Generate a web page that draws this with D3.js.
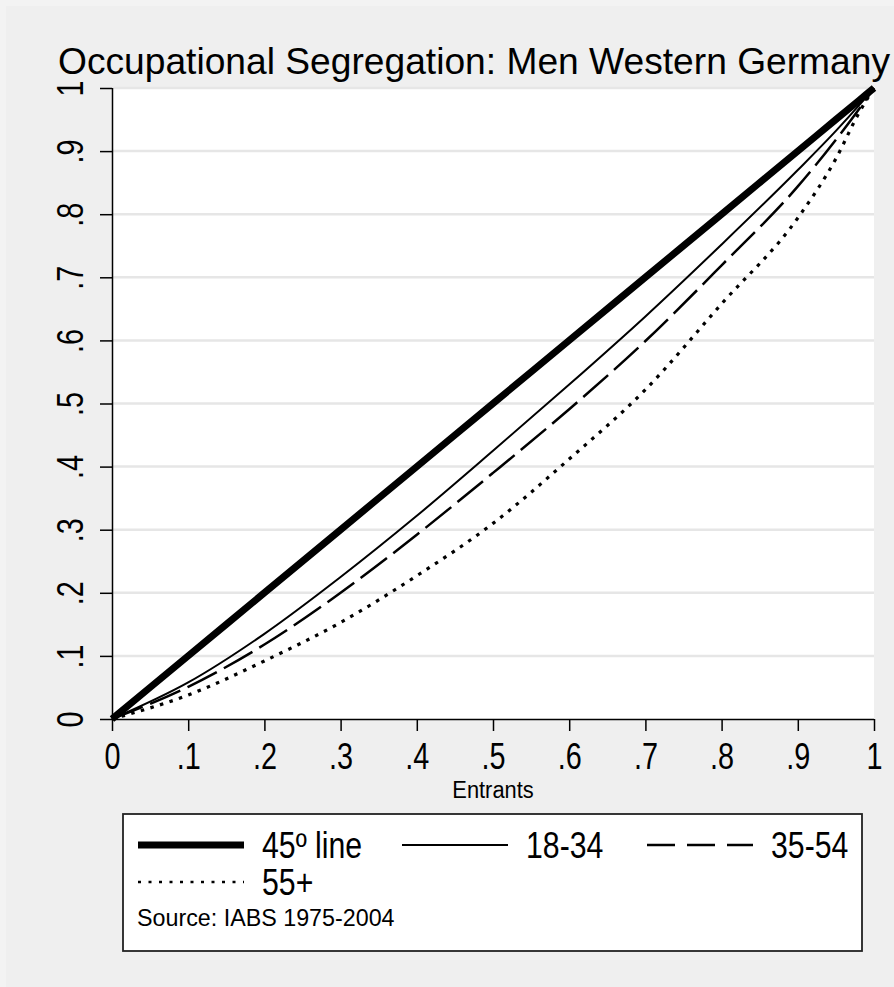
<!DOCTYPE html>
<html>
<head>
<meta charset="utf-8">
<script src="https://cdn.jsdelivr.net/npm/d3@7"></script>
<style>
  body { margin: 0; background: #efefef; }
  text { font-family: Arial, "Liberation Sans", sans-serif; fill: #000; }
</style>
</head>
<body>
<div id="chart"></div>
<script>
// chart data (share of entrants vs share of employment)
var xShares = [0, 0.1, 0.2, 0.3, 0.4, 0.5, 0.6, 0.7, 0.8, 0.9, 0.95, 0.98, 1];
var line45 = [0, 0.1, 0.2, 0.3, 0.4, 0.5, 0.6, 0.7, 0.8, 0.9, 0.95, 0.98, 1];
var age18to34 = [0, 0.058, 0.135, 0.225, 0.322, 0.425, 0.53, 0.638, 0.752, 0.87, 0.932, 0.972, 1];
var age35to54 = [0, 0.051, 0.118, 0.2, 0.292, 0.39, 0.491, 0.599, 0.719, 0.844, 0.918, 0.966, 1];
var age55plus = [0, 0.038, 0.092, 0.153, 0.227, 0.31, 0.412, 0.522, 0.658, 0.794, 0.888, 0.96, 1];
var yTicks = [0, 0.1, 0.2, 0.3, 0.4, 0.5, 0.6, 0.7, 0.8, 0.9, 1];
var xTicks = [0, 0.1, 0.2, 0.3, 0.4, 0.5, 0.6, 0.7, 0.8, 0.9, 1];

var svgWidth = 894;
var svgHeight = 987;

var margin = { top: 88, right: 20, bottom: 268, left: 112 };
var width = 874 - margin.left;
var height = 719 - margin.top;

var svg = d3.select("#chart").append("svg")
  .attr("width", svgWidth)
  .attr("height", svgHeight);

svg.append("rect").attr("width", svgWidth).attr("height", svgHeight).attr("fill", "#f3f3f3");
svg.append("rect").attr("x", 6).attr("y", 6).attr("width", svgWidth - 6).attr("height", svgHeight - 6)
  .attr("fill", "#efefef");

// squeeze text horizontally (the original uses a narrow looking font)
function condense(sel, k) {
  sel.each(function () {
    var len = this.getComputedTextLength();
    d3.select(this).attr("textLength", len * k).attr("lengthAdjust", "spacingAndGlyphs");
  });
}

// title
svg.append("text")
  .attr("x", 58)
  .attr("y", 74)
  .attr("textLength", 832)
  .attr("lengthAdjust", "spacingAndGlyphs")
  .style("font-size", "36px")
  .text("Occupational Segregation: Men Western Germany");

var chartGroup = svg.append("g").attr("transform", `translate(${margin.left}, ${margin.top})`);

chartGroup.append("rect").attr("width", width).attr("height", height).attr("fill", "#fff");

var xScale = d3.scaleLinear().domain([0, 1]).range([0, width]);
var yScale = d3.scaleLinear().domain([0, 1]).range([height, 0]);

var fmt = function (d) { return d === 0 || d === 1 ? String(d) : d3.format(".1f")(d).replace(/^0/, ""); };

// gridlines
chartGroup.selectAll(".grid").data(yTicks.filter(d => d > 0)).enter().append("line")
  .attr("x1", 0).attr("x2", width)
  .attr("y1", d => yScale(d)).attr("y2", d => yScale(d))
  .attr("stroke", "#e6e6e6").attr("stroke-width", 2.5);

// axes
var bottomAxis = d3.axisBottom(xScale).tickValues(xTicks).tickFormat(fmt).tickSize(12);
var leftAxis = d3.axisLeft(yScale).tickValues(yTicks).tickFormat(fmt).tickSize(12);

var xAxisG = chartGroup.append("g").attr("transform", `translate(0, ${height})`).call(bottomAxis);
var yAxisG = chartGroup.append("g").call(leftAxis);

[xAxisG, yAxisG].forEach(function (g) {
  g.select(".domain").attr("stroke", "#000").attr("stroke-width", 1.5);
  g.selectAll(".tick line").attr("stroke", "#000").attr("stroke-width", 1.5);
  g.selectAll(".tick text").style("font-size", "36px").attr("fill", "#000")
    .style("font-family", "Arial, 'Liberation Sans', sans-serif");
});
xAxisG.select(".domain").attr("d", `M0,0.5H${width}`);
yAxisG.select(".domain").attr("d", `M0.5,${height}V0`);

xAxisG.selectAll(".tick text").attr("dy", null).attr("y", 50);
yAxisG.selectAll(".tick text")
  .attr("x", null).attr("dy", null)
  .attr("text-anchor", "middle")
  .attr("transform", "translate(-29,0) rotate(-90)");
condense(xAxisG.selectAll(".tick text"), 0.8);
condense(yAxisG.selectAll(".tick text"), 0.8);

var xTitle = chartGroup.append("text")
  .attr("x", width / 2)
  .attr("y", height + 79)
  .attr("text-anchor", "middle")
  .style("font-size", "23px")
  .text("Entrants");
condense(xTitle, 0.95);

// lines
var series = [
  { name: "45º line", values: line45, width: 7, dash: null },
  { name: "18-34", values: age18to34, width: 2, dash: null },
  { name: "35-54", values: age35to54, width: 2.5, dash: "33,8" },
  { name: "55+", values: age55plus, width: 3.2, dash: "3.5,6.5" }
];

var line = d3.line()
  .x((d, i) => xScale(xShares[i]))
  .y(d => yScale(d))
  .curve(d3.curveMonotoneX);

series.slice().reverse().forEach(function (s) {
  chartGroup.append("path")
    .attr("d", line(s.values))
    .attr("fill", "none")
    .attr("stroke", "#000")
    .attr("stroke-width", s.width)
    .attr("stroke-dasharray", s.dash);
});

// legend
var legend = svg.append("g");
legend.append("rect")
  .attr("x", 123).attr("y", 814).attr("width", 739).attr("height", 137)
  .attr("fill", "#fff").attr("stroke", "#222").attr("stroke-width", 1.8);

var legendItems = [
  { s: series[0], x: 138, y: 845, w: 7, dash: null },
  { s: series[1], x: 402, y: 845, w: 2, dash: null },
  { s: series[2], x: 647, y: 845, w: 2.5, dash: "28,12" },
  { s: series[3], x: 138, y: 882, w: 2.5, dash: "3,7.5" }
];

legendItems.forEach(function (it) {
  legend.append("line")
    .attr("x1", it.x).attr("x2", it.x + 106)
    .attr("y1", it.y).attr("y2", it.y)
    .attr("stroke", "#000")
    .attr("stroke-width", it.w)
    .attr("stroke-dasharray", it.dash);
  var t = legend.append("text")
    .attr("x", it.x + 124)
    .attr("y", it.y + 13)
    .style("font-size", "36px")
    .text(it.s.name);
  condense(t, 0.84);
});

var src = legend.append("text")
  .attr("x", 137)
  .attr("y", 926)
  .style("font-size", "24px")
  .text("Source: IABS 1975-2004");
condense(src, 0.97);
</script>
</body>
</html>
